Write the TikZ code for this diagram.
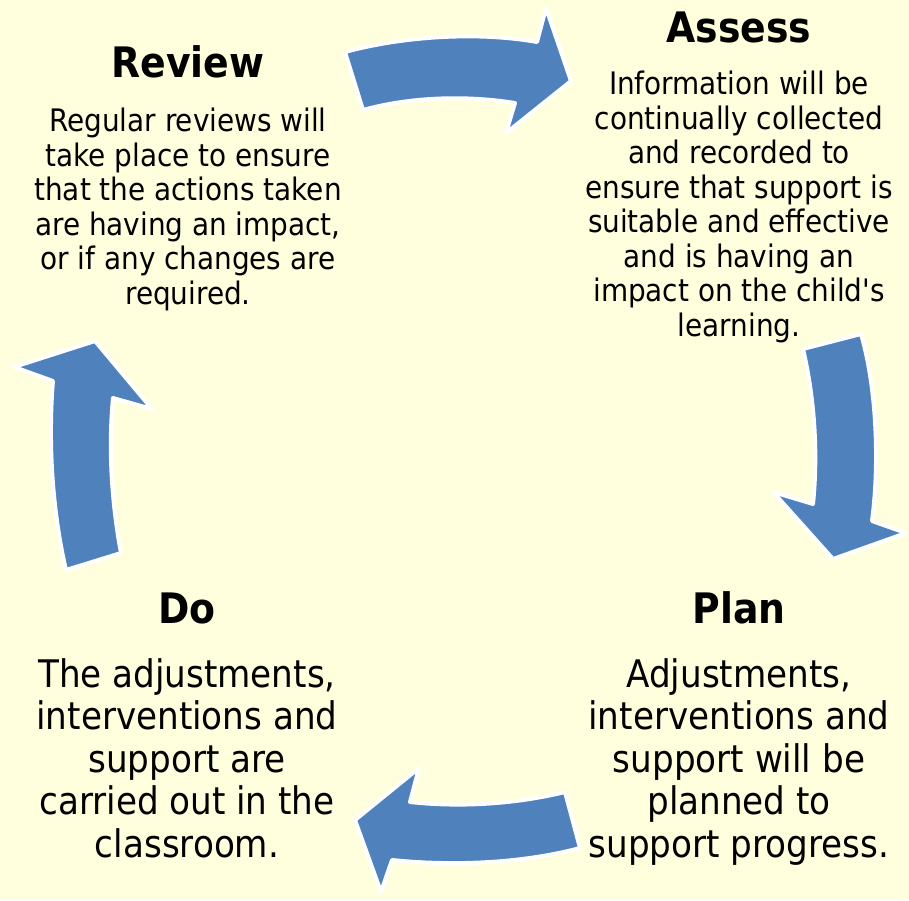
\documentclass[tikz,border=0pt]{standalone}
\usepackage{fontspec}
\usepackage{tikz}
\usepackage{xcolor}
\setmainfont{DejaVu Sans Condensed}[Ligatures=TeXOff]

\definecolor{paleyellow}{HTML}{FFFFDD}
\definecolor{arrowblue}{HTML}{4F81BD}

\tikzset{
	cyclearrow/.style={fill=arrowblue,draw=white,line width=4pt,line join=round},
	headtext/.style={anchor=base,inner sep=0pt,font=\fontsize{42}{48}\selectfont\bfseries},
	smalltext/.style={anchor=base,inner sep=0pt,align=center,font=\fontsize{31}{34.5}\selectfont},
	bigtext/.style={anchor=base,inner sep=0pt,align=center,font=\fontsize{38}{42.5}\selectfont}
}

\begin{document}
\begin{tikzpicture}[x=1pt,y=-1pt]
			\fill[paleyellow] (0,0) rectangle (909,900);
			\useasboundingbox (0,0) rectangle (909,900);
			% arrows of the cycle
			\filldraw[cyclearrow] (345,52) .. controls (400,37) and (475,31) .. (537,42)--(546,8)--(571,81)--(506,133)--(515,103) .. controls (465,95) and (410,97) .. (363,110)--cycle;
			\filldraw[cyclearrow] (803,349)--(861,334) .. controls (876,385) and (880,460) .. (872,521)--(906,533)--(833,559)--(773,492)--(813,504) .. controls (818,455) and (815,400) .. (803,349)--cycle;
			\filldraw[cyclearrow] (565,792)--(580,848) .. controls (520,864) and (450,866) .. (392,860)--(381,892)--(355,820)--(419,768)--(410,802) .. controls (465,808) and (520,803) .. (565,792)--cycle;
			\filldraw[cyclearrow] (66,570) .. controls (52,510) and (48,440) .. (53,381)--(14,367)--(95,341)--(152,409)--(113,398) .. controls (108,450) and (112,505) .. (121,553)--cycle;
			% texts (base = last line)
			\node[headtext] (review) at (188,77) {Review};
			\node[smalltext] (reviewtxt) at (188,304) {Regular reviews will\\take place to ensure\\that the actions taken\\are having an impact,\\or if any changes are\\required.};
			\node[headtext] (assess) at (739,42) {Assess};
			\node[smalltext] (assesstxt) at (739,336) {Information will be\\continually collected\\and recorded to\\ensure that support is\\suitable and effective\\and is having an\\impact on the child's\\learning.};
			\node[headtext] (plan) at (739,623) {Plan};
			\node[bigtext] (plantxt) at (739,857) {Adjustments,\\interventions and\\support will be\\planned to\\support progress.};
			\node[headtext] (do) at (187,623) {Do};
			\node[bigtext] (dotxt) at (187,857) {The adjustments,\\interventions and\\support are\\carried out in the\\classroom.};
		\end{tikzpicture}
\end{document}
